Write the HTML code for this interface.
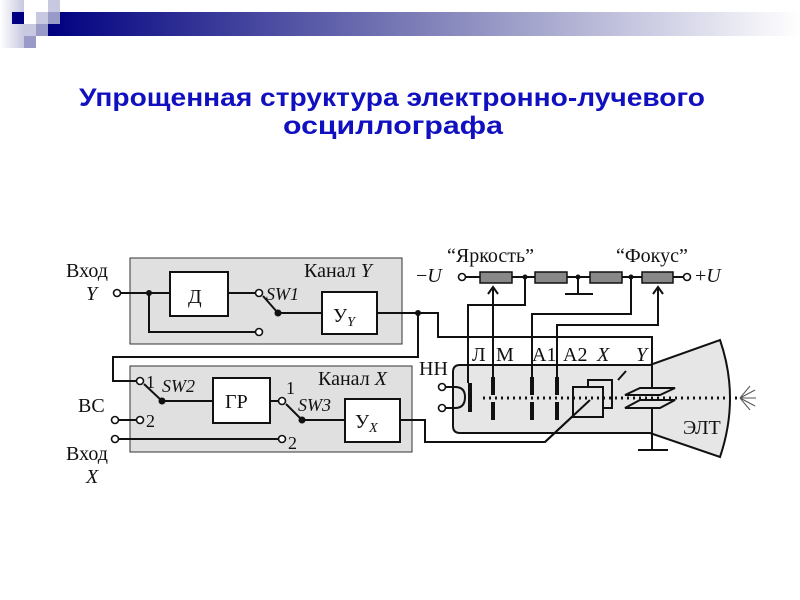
<!DOCTYPE html>
<html><head><meta charset="utf-8"><style>
html,body{margin:0;padding:0;background:#fff;width:800px;height:600px;overflow:hidden}
svg{display:block}
</style></head><body>
<svg width="800" height="600" viewBox="0 0 800 600" xmlns="http://www.w3.org/2000/svg">
<defs>
<linearGradient id="bar" x1="0" x2="1" y1="0" y2="0">
<stop offset="0" stop-color="#000080"/><stop offset="0.5" stop-color="#7f80b8"/><stop offset="1" stop-color="#ffffff"/>
</linearGradient>
<linearGradient id="lg" x1="0" x2="1"><stop offset="0" stop-color="#fff"/><stop offset="1" stop-color="#c8c8e0"/></linearGradient>
</defs>
<rect x="48" y="12" width="752" height="24" fill="url(#bar)"/>
<rect x="0" y="0" width="24" height="48" fill="url(#lg)"/>
<rect x="12" y="12" width="12" height="12" fill="#000080"/>
<rect x="48" y="0" width="12" height="12" fill="#c8c8e0"/>
<rect x="36" y="12" width="12" height="12" fill="#c8c8e0"/>
<rect x="48" y="12" width="12" height="12" fill="#9a9ac8"/>
<rect x="24" y="24" width="12" height="12" fill="#c8c8e0"/>
<rect x="36" y="24" width="12" height="12" fill="#9a9ac8"/>
<rect x="24" y="36" width="12" height="12" fill="#9a9ac8"/>
<g font-family="Liberation Sans, sans-serif" font-weight="bold" font-size="25" fill="#1010c0" text-anchor="middle">
<text x="392" y="106" textLength="626" lengthAdjust="spacingAndGlyphs">Упрощенная структура электронно-лучевого</text>
<text x="393" y="134" textLength="220" lengthAdjust="spacingAndGlyphs">осциллографа</text>
</g>
<g fill="#e0e0e0" stroke="#333" stroke-width="1">
<rect x="130" y="258" width="272" height="86"/>
<rect x="130" y="366" width="282" height="86"/>
</g>
<path d="M460 365 L650 365 L720 340 Q740 398 720 457 L650 433 L460 433 Q453 433 453 426 L453 372 Q453 365 460 365 Z" fill="#e6e6e6" stroke="#111" stroke-width="2"/>
<g fill="#fff" stroke="#111" stroke-width="2">
<rect x="170" y="272" width="58" height="44"/>
<rect x="322" y="292" width="55" height="42"/>
<rect x="213" y="378" width="57" height="45"/>
<rect x="345" y="399" width="55" height="43"/>
</g>
<g fill="none" stroke="#111" stroke-width="2">
<path d="M121 293 H170 M149 293 V332 H255 M228 293 H255 M263 296 L278 313 H322 M377 313 H418"/>
<path d="M418 313 V357 H113 V381 H136"/>
<path d="M144 384 L162 401 H213 M119 420 H136 M270 401 H278 M286 404 L302 420 H345 M119 439 H278"/>
<path d="M400 420 H425 V442 H545 L590 400"/>
<path d="M418 313 H438 V337 H652 V387 M652 408 V450 M638 450 H668"/>
<path d="M466 277 H480 M512 277 H535 M567 277 H590 M622 277 H642 M673 277 H683 M578 277 V294 M565 294 H593"/>
<path d="M525 277 V305 H468 V383"/>
<path d="M631 277 V314 H532 V377"/>
<path d="M658 287 V325 H557 V377"/>
<path d="M493 287 V377"/>
<path d="M488 294 L493 287 L498 294 M653 294 L658 287 L663 294"/>
<path d="M446 387 H455 Q465 387 465 397 Q465 408 455 408 H446"/>
<rect x="588" y="380" width="24" height="28"/>
<path d="M618 380 L626 371"/>
<path d="M640 388 H675 L660 395 H625 Z M640 400 H675 L660 408 H625 Z"/>
</g>
<rect x="573" y="387" width="30" height="30" fill="#e6e6e6" stroke="#111" stroke-width="2"/>
<path d="M545 442 L590 400" stroke="#111" stroke-width="2"/>
<g fill="#888" stroke="#111" stroke-width="1.5">
<rect x="480" y="272" width="32" height="11"/>
<rect x="535" y="272" width="32" height="11"/>
<rect x="590" y="272" width="32" height="11"/>
<rect x="642" y="272" width="31" height="11"/>
</g>
<g stroke="#111" stroke-width="4">
<path d="M470 383 V412 M493 377 V395 M493 402 V420 M532 377 V395 M532 402 V420 M557 377 V395 M557 402 V420"/>
</g>
<line x1="483" y1="398" x2="740" y2="398" stroke="#111" stroke-width="3" stroke-dasharray="2 4"/>
<g stroke="#555" stroke-width="1"><path d="M740 398 L755 390 M740 398 L756 398 M740 398 L755 406 M740 398 L750 386 M740 398 L750 410"/></g>
<g fill="#111">
<circle cx="149" cy="293" r="3"/><circle cx="278" cy="313" r="3.5"/><circle cx="418" cy="313" r="3"/>
<circle cx="162" cy="401" r="3.5"/><circle cx="302" cy="420" r="3.5"/>
<circle cx="525" cy="277" r="2.5"/><circle cx="578" cy="277" r="2.5"/><circle cx="631" cy="277" r="2.5"/>
</g>
<g fill="#fff" stroke="#111" stroke-width="1.6">
<circle cx="117" cy="293" r="3.5"/><circle cx="259" cy="293" r="3.5"/><circle cx="259" cy="332" r="3.5"/>
<circle cx="140" cy="381" r="3.5"/><circle cx="140" cy="420" r="3.5"/><circle cx="115" cy="420" r="3.5"/>
<circle cx="115" cy="439" r="3.5"/><circle cx="282" cy="401" r="3.5"/><circle cx="282" cy="439" r="3.5"/>
<circle cx="462" cy="277" r="3.5"/><circle cx="687" cy="277" r="3.5"/>
<circle cx="442" cy="387" r="3.5"/><circle cx="442" cy="408" r="3.5"/>
</g>
<g font-family="Liberation Serif, serif" font-size="20" fill="#111">
<text x="66" y="277">Вход</text>
<text x="86" y="300" font-style="italic">Y</text>
<text x="188" y="303">Д</text>
<text x="304" y="277">Канал <tspan font-style="italic">Y</tspan></text>
<text x="266" y="300" font-style="italic" font-size="18">SW1</text>
<text x="333" y="322">У<tspan font-size="14" font-style="italic" dy="4">Y</tspan></text>
<text x="318" y="385">Канал <tspan font-style="italic">X</tspan></text>
<text x="146" y="388" font-size="18">1</text>
<text x="162" y="392" font-style="italic" font-size="18">SW2</text>
<text x="146" y="427" font-size="18">2</text>
<text x="78" y="412">ВС</text>
<text x="225" y="408">ГР</text>
<text x="286" y="394" font-size="18">1</text>
<text x="298" y="411" font-style="italic" font-size="18">SW3</text>
<text x="288" y="449" font-size="18">2</text>
<text x="355" y="428">У<tspan font-size="14" font-style="italic" dy="4">X</tspan></text>
<text x="66" y="460">Вход</text>
<text x="86" y="483" font-style="italic">X</text>
<text x="447" y="262">“Яркость”</text>
<text x="616" y="262">“Фокус”</text>
<text x="416" y="282"><tspan>−</tspan><tspan font-style="italic">U</tspan></text>
<text x="695" y="282">+<tspan font-style="italic">U</tspan></text>
<text x="419" y="375">НН</text>
<text x="472" y="361">Л</text>
<text x="496" y="361">М</text>
<text x="532" y="361">А1</text>
<text x="563" y="361">А2</text>
<text x="597" y="361" font-style="italic">X</text>
<text x="636" y="361" font-style="italic">Y</text>
<text x="683" y="434">ЭЛТ</text>
</g>
</svg>
</body></html>
